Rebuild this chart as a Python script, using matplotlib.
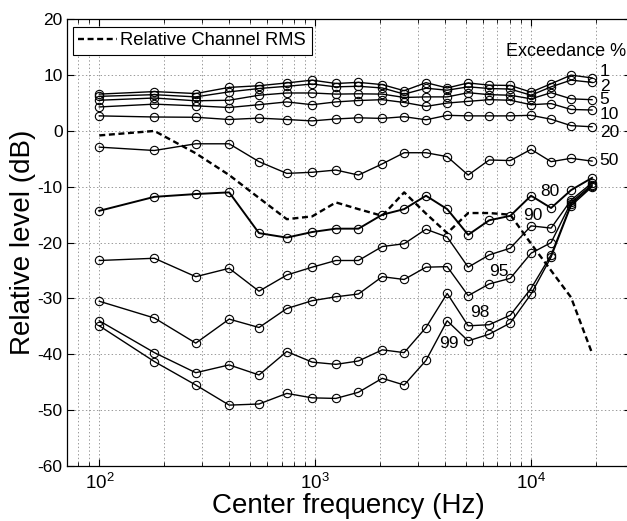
import numpy as np
import matplotlib
matplotlib.use("Agg")
import matplotlib.pyplot as plt
from matplotlib.ticker import LogLocator, NullFormatter

plt.rcParams['font.family'] = ['Liberation Sans', 'DejaVu Sans']
plt.rcParams['mathtext.default'] = 'regular'
plt.rcParams['axes.unicode_minus'] = False
plt.rcParams['lines.scale_dashes'] = False

###############################################################################
### Données : niveaux relatifs (dB) par bande de fréquence

freq = [100, 180, 280, 400, 550, 740, 970, 1250, 1590, 2050,
        2590, 3270, 4100, 5130, 6420, 8040, 10040, 12430, 15380, 19250]

# Niveau RMS relatif du canal
rms = [-0.8, 0.0, -4.0, -7.9, -12.0, -15.8, -15.3, -12.8, -14.0, -15.2,
       -11.0, -14.8, -18.3, -14.7, -14.7, -15.0, -20.2, -25.0, -29.8, -39.8]

# Niveaux dépassés x % du temps
p1 = [6.6, 7.05, 6.7, 7.8, 8.1, 8.6, 9.1, 8.5, 8.7, 8.3,
      7.2, 8.65, 7.7, 8.6, 8.2, 8.15, 6.95, 8.45, 10.0, 9.5]
p2 = [6.2, 6.5, 6.1, 7.0, 7.6, 8.0, 8.4, 7.9, 8.0, 7.7,
      6.6, 7.65, 7.3, 7.9, 7.6, 7.5, 6.4, 7.9, 9.1, 8.7]
p5 = [5.5, 5.9, 5.4, 5.5, 6.4, 6.8, 6.8, 6.6, 6.65, 6.6,
      6.0, 6.1, 6.1, 6.85, 6.5, 6.4, 5.75, 6.85, 5.75, 5.6]
p10 = [4.3, 4.8, 4.5, 4.2, 4.7, 5.2, 4.7, 5.2, 5.45, 5.6,
       5.1, 4.4, 5.0, 5.3, 5.6, 5.5, 4.7, 4.9, 3.85, 3.75]
p20 = [2.7, 2.5, 2.45, 2.05, 2.3, 2.05, 1.8, 2.15, 2.35, 2.25,
       2.55, 2.0, 2.8, 2.7, 2.7, 2.7, 2.8, 2.1, 0.95, 0.75]
p50 = [-2.9, -3.5, -2.3, -2.3, -5.5, -7.6, -7.4, -7.0, -7.9, -5.9,
       -3.9, -3.9, -4.6, -7.9, -5.2, -5.3, -3.3, -5.5, -4.9, -5.4]
p80 = [-14.3, -11.8, -11.3, -11.0, -18.3, -19.1, -18.1, -17.5, -17.5, -15.0,
       -14.0, -11.6, -14.0, -18.6, -16.0, -15.2, -11.6, -13.8, -10.6, -8.4]
p90 = [-23.2, -22.8, -26.1, -24.6, -28.7, -25.8, -24.4, -23.2, -23.2, -20.7,
       -20.2, -17.6, -19.0, -24.4, -22.2, -21.0, -17.0, -17.4, -12.4, -9.3]
p95 = [-30.5, -33.5, -38.0, -33.7, -35.2, -31.8, -30.4, -29.7, -29.2, -26.1,
       -26.6, -24.4, -24.3, -29.5, -27.4, -26.4, -21.9, -20.0, -12.8, -9.6]
p98 = [-34.0, -39.7, -43.3, -41.9, -43.7, -39.5, -41.4, -41.8, -41.2, -39.2,
       -39.7, -35.2, -29.1, -34.9, -34.7, -33.0, -28.2, -22.2, -13.1, -9.8]
p99 = [-34.9, -41.3, -45.5, -49.1, -48.9, -47.0, -47.8, -47.9, -46.8, -44.3,
       -45.5, -41.1, -34.0, -37.6, -36.4, -34.4, -29.2, -22.6, -13.4, -10.0]

exceedance = [1, 2, 5, 10, 20, 50, 80, 90, 95, 98, 99]
courbes = [p1, p2, p5, p10, p20, p50, p80, p90, p95, p98, p99]

###############################################################################
### Figure

fig = plt.figure(figsize=(6.27, 5.21), dpi=100)
# l'axe droit tombe juste hors du cadre de l'image
ax = fig.add_axes([0.1064, 0.1056, 0.9000, 0.8574])

for pct, niveaux in zip(exceedance, courbes):
    lw = 1.4 if pct == 80 else 1.0
    ax.plot(freq, niveaux, '-o', color='k', lw=lw, ms=6, mfc='none', mec='k', mew=0.8)

ax.plot(freq, rms, color='k', lw=1.7, dashes=(4.3, 2.6), label='Relative Channel RMS')

ax.set_xscale('log')
ax.set_xlim(70.6, 29180)
ax.set_ylim(-60, 20)
ax.set_yticks(np.arange(-60, 21, 10))
ax.xaxis.set_minor_locator(LogLocator(base=10, subs=np.arange(2, 10)))
ax.xaxis.set_minor_formatter(NullFormatter())

ax.grid(True, which='major', ls=':', color='0.6', lw=0.7)
ax.grid(True, axis='x', which='minor', ls=':', color='0.6', lw=0.7)
ax.set_axisbelow(True)

ax.tick_params(which='both', direction='in', top=True, right=True)
ax.tick_params(axis='y', labelsize=12.5, pad=3)
ax.tick_params(axis='x', labelsize=13.5, pad=5)
ax.tick_params(which='major', length=5, width=0.8)
ax.tick_params(which='minor', length=3, width=0.6)
for s in ax.spines.values():
    s.set_linewidth(0.9)

ax.set_xlabel('Center frequency (Hz)', fontsize=20, labelpad=0)
ax.set_ylabel('Relative level (dB)', fontsize=20, labelpad=1)

### Étiquettes des courbes
ax.text(27700, 14.2, 'Exceedance %', ha='right', va='center', fontsize=13)
droite = {1: 10.6, 2: 8.0, 5: 5.55, 10: 2.95, 20: -0.3, 50: -5.3}
for pct, y in droite.items():
    ax.text(20900, y, str(pct), ha='left', va='center', fontsize=12.5)
dedans = {80: (12290, -10.9), 90: (10245, -15.2), 95: (7130, -25.1),
          98: (5823, -32.6), 99: (4180, -38.1)}
for pct, (x, y) in dedans.items():
    ax.text(x, y, str(pct), ha='center', va='center', fontsize=12.5)

leg = ax.legend(loc='upper left', bbox_to_anchor=(72.7 / 627, 1 - 26.7 / 521),
                bbox_transform=fig.transFigure, borderaxespad=0, fontsize=13.2,
                handlelength=2.1, handletextpad=0.2, borderpad=0.3,
                fancybox=False, framealpha=1, edgecolor='k')
leg.get_frame().set_linewidth(0.8)

fig.savefig('out.png', dpi=100)
